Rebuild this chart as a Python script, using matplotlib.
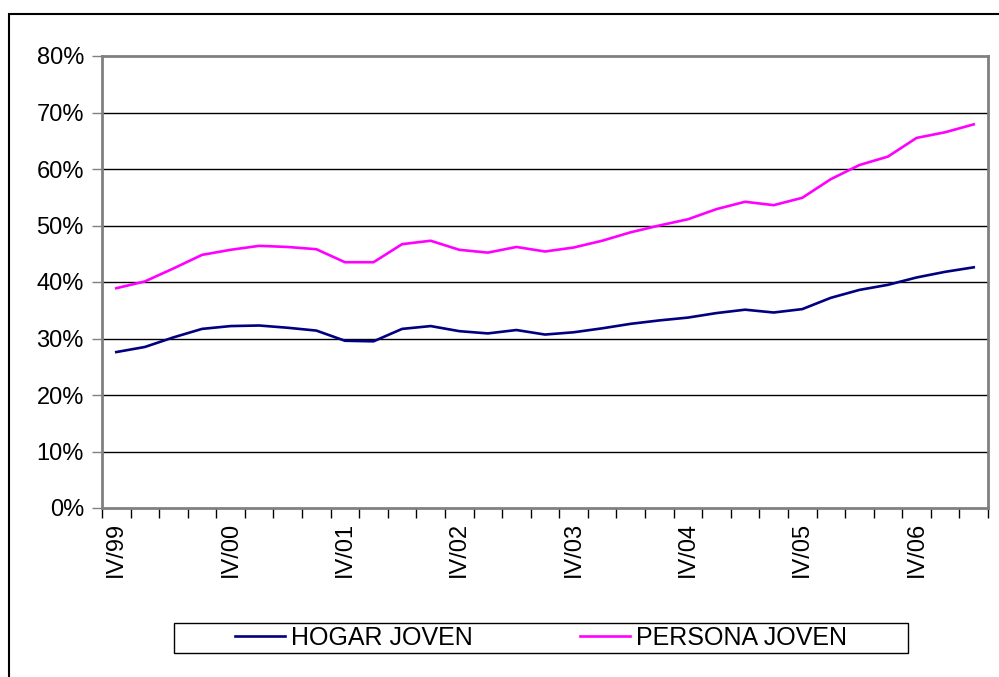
""" plot.py """

import numpy as np
import matplotlib
matplotlib.use("Agg")
import matplotlib.pyplot as plt
from matplotlib.patches import Rectangle

plt.rcParams['font.family'] = ['Liberation Sans', 'DejaVu Sans']

# Quarterly series, IV/99 .. II/07
quarters = ["IV/99", "I/00", "II/00", "III/00", "IV/00", "I/01", "II/01", "III/01",
            "IV/01", "I/02", "II/02", "III/02", "IV/02", "I/03", "II/03", "III/03",
            "IV/03", "I/04", "II/04", "III/04", "IV/04", "I/05", "II/05", "III/05",
            "IV/05", "I/06", "II/06", "III/06", "IV/06", "I/07", "II/07"]

hogar_joven = [27.6, 28.5, 30.2, 31.7, 32.2, 32.3, 31.9, 31.4, 29.6, 29.5,
               31.7, 32.2, 31.3, 30.9, 31.5, 30.7, 31.1, 31.8, 32.6, 33.2,
               33.7, 34.5, 35.1, 34.6, 35.2, 37.2, 38.6, 39.5, 40.8, 41.8, 42.6]

persona_joven = [38.9, 40.1, 42.4, 44.8, 45.7, 46.4, 46.2, 45.8, 43.5, 43.5,
                 46.7, 47.3, 45.7, 45.2, 46.2, 45.4, 46.1, 47.3, 48.8, 50.0,
                 51.1, 52.9, 54.2, 53.6, 54.9, 58.2, 60.7, 62.2, 65.5, 66.5, 67.9]

W, H = 999, 677
fig = plt.figure(figsize=(W / 100, H / 100), dpi=100)
ax = fig.add_axes([102 / W, 1 - 508 / H, 886 / W, 452 / H])

x = np.arange(len(quarters))
ax.plot(x, hogar_joven, color="#000080", lw=1.9, label="HOGAR JOVEN")
ax.plot(x, persona_joven, color="#FF00FF", lw=1.9, label="PERSONA JOVEN")

ax.set_xlim(-0.5, len(quarters) - 0.5)
ax.set_ylim(0, 80)

# y axis
yt = np.arange(0, 81, 10)
ax.set_yticks(yt)
ax.set_yticklabels([f"{v}%" for v in yt], fontsize=17)
ax.tick_params(axis="y", direction="out", length=7, width=1, color="#808080", pad=6)
for v in yt[1:-1]:
    ax.axhline(v, color="black", lw=1, zorder=0)

# x axis: ticks at category boundaries, labels every 4th quarter
ax.set_xticks(np.arange(-0.5, len(quarters)))
ax.set_xticklabels([])
ax.tick_params(axis="x", which="major", direction="out", length=7, width=1, color="black")
ax.set_xticks(x[::4], minor=True)
ax.set_xticklabels(quarters[::4], minor=True, rotation=90, fontsize=17)
ax.tick_params(axis="x", which="minor", length=0, pad=10)

for s in ax.spines.values():
    s.set_color("#808080")
    s.set_linewidth(2)

# outer chart frame
fig.patches.append(Rectangle((9 / W, -0.1), 1.2, 1 - 14 / H + 0.1, transform=fig.transFigure,
                             fill=False, edgecolor="black", lw=1.5))

# legend box
fig.patches.append(Rectangle((174 / W, 1 - 653 / H), 734 / W, 30 / H, transform=fig.transFigure,
                             fill=False, edgecolor="black", lw=1))
fig.legend(loc="center", ncol=2, bbox_to_anchor=(541 / W, 1 - 638 / H),
           fontsize=18, handlelength=2.0, handletextpad=0.25, columnspacing=4.3,
           frameon=False, borderpad=0)

fig.savefig("out.png", dpi=100)
